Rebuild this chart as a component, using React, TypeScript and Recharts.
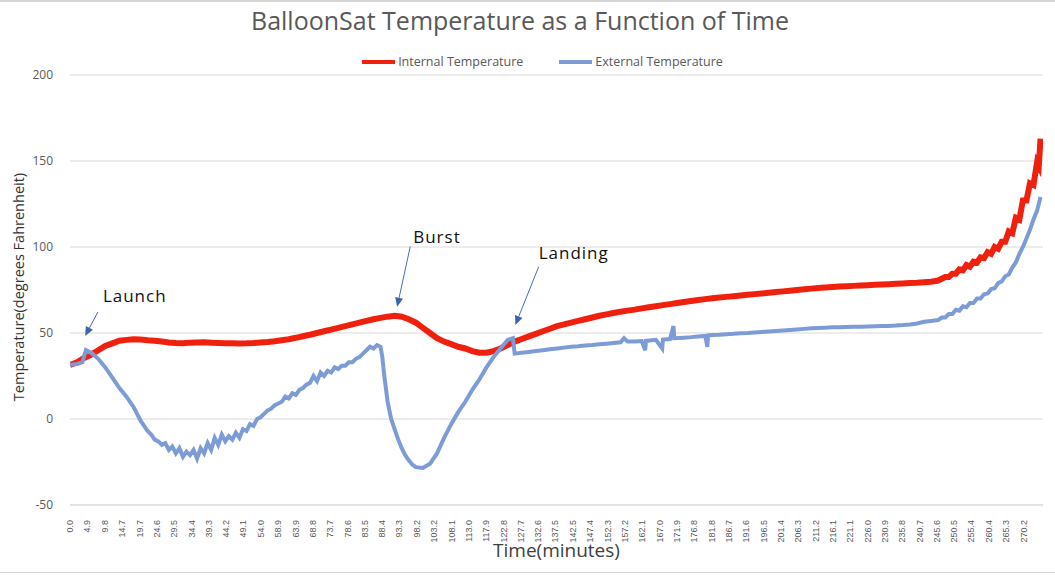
import { LineChart, Line, XAxis, YAxis, CartesianGrid, Legend, ReferenceLine } from "recharts";

// x-axis tick labels (minutes)
const tickLabels = [
  "0.0", "4.9", "9.8", "14.7", "19.7", "24.6", "29.5", "34.4", "39.3", "44.2",
  "49.1", "54.0", "58.9", "63.9", "68.8", "73.7", "78.6", "83.5", "88.4", "93.3",
  "98.2", "103.2", "108.1", "113.0", "117.9", "122.8", "127.7", "132.6", "137.5", "142.5",
  "147.4", "152.3", "157.2", "162.1", "167.0", "171.9", "176.8", "181.8", "186.7", "191.6",
  "196.5", "201.4", "206.3", "211.2", "216.1", "221.1", "226.0", "230.9", "235.8", "240.7",
  "245.6", "250.5", "255.4", "260.4", "265.3", "270.2",
];
const yTicks = [-50, 0, 50, 100, 150, 200];
const seriesNames = ["Internal Temperature", "External Temperature"];

// internal temperature (red)
const internalTime = [
  0, 2, 4, 6, 8, 10, 12, 14, 16, 18, 20, 22, 24, 26, 28, 30, 32, 34, 36, 38,
  40, 42, 44, 46, 48, 50, 52, 54, 56, 58, 60, 62, 64, 66, 68, 70, 72, 74, 76, 78,
  80, 82, 84, 86, 88, 90, 92, 94, 96, 98, 100, 102, 104, 106, 108, 110, 112, 114, 116, 118,
  120, 122, 124, 126, 128, 130, 132, 134, 136, 138, 140, 142, 144, 146, 148, 150, 152, 154, 156, 158,
  160, 162, 164, 166, 168, 170, 172, 174, 176, 178, 180, 182, 184, 186, 188, 190, 192, 194, 196, 198,
  200, 202, 204, 206, 208, 210, 212, 214, 216, 218, 220, 222, 224, 226, 228, 230, 232, 234, 236, 238,
  240, 242, 244, 246, 247, 248, 249, 250, 251, 252, 253, 254, 255, 256, 257, 258, 259, 260, 261, 262,
  263, 264, 265, 266, 267, 268, 269, 270, 271, 272, 273, 274, 274.5, 275,
];
const internalTemp = [
  31.5, 33, 35.5, 37.5, 40, 42.5, 44, 45.5, 46, 46.3, 46.2, 45.8, 45.5, 45, 44.5, 44.2, 44, 44.4, 44.5, 44.6,
  44.4, 44.2, 44, 44.1, 43.9, 44, 44.2, 44.5, 44.8, 45.2, 45.8, 46.4, 47.2, 48.1, 49, 50, 51, 52, 53, 54,
  55, 56, 57, 58, 58.8, 59.5, 60, 59.5, 58, 56, 53, 50, 47, 45, 43.5, 42, 41, 39.5, 38.5, 38.5,
  39.5, 41, 43, 45, 46.5, 48, 49.5, 51, 52.5, 54, 55, 56, 57, 58, 59, 60, 60.8, 61.6, 62.4, 63,
  63.6, 64.3, 65, 65.6, 66.2, 66.8, 67.4, 68, 68.6, 69.2, 69.7, 70.2, 70.6, 71, 71.4, 71.8, 72.2, 72.6, 73, 73.4,
  73.8, 74.2, 74.6, 75, 75.4, 75.8, 76.1, 76.4, 76.7, 77, 77.2, 77.4, 77.6, 77.8, 78, 78.2, 78.4, 78.6, 78.8, 79,
  79.2, 79.5, 79.8, 80.5, 81.5, 82.5, 82.5, 84.5, 84.5, 87, 86.5, 89.5, 88.5, 91.5, 91, 94, 93.5, 97, 96, 100,
  99, 103, 103, 109, 108, 117, 116, 127, 127, 137, 136, 149, 147, 163,
];

// external temperature (blue)
const externalTime = [
  0, 2, 3.5, 4.5, 6, 8, 10, 12, 14, 16, 18, 20, 21, 22, 23, 24, 25, 26, 27, 28,
  29, 30, 31, 32, 33, 34, 35, 36, 37, 38, 39, 40, 41, 42, 43, 44, 45, 46, 47, 48,
  49, 50, 51, 52, 53, 54, 55, 56, 57, 58, 59, 60, 61, 62, 63, 64, 65, 66, 67, 68,
  69, 70, 71, 72, 73, 74, 75, 76, 77, 78, 79, 80, 81, 82, 83, 84, 85, 86, 87, 88,
  88.5, 89, 90, 91, 92, 93, 94, 95, 96, 97, 98, 100, 102, 104, 106, 108, 110, 112, 114, 116,
  118, 120, 122, 124, 125.5, 126, 128, 130, 132, 134, 136, 138, 140, 142, 144, 146, 148, 150, 152, 154,
  156, 157, 158, 160, 162, 163, 163.2, 166, 167.8, 168, 170, 171, 171.2, 174, 176, 178, 180, 180.6, 180.8, 182,
  184, 186, 188, 190, 192, 194, 196, 198, 200, 202, 204, 206, 208, 210, 212, 214, 216, 218, 220, 222,
  224, 226, 228, 230, 232, 234, 236, 238, 240, 242, 244, 246, 247, 248, 249, 250, 251, 252, 253, 254,
  255, 256, 257, 258, 259, 260, 261, 262, 263, 264, 265, 266, 267, 268, 269, 270, 271, 272, 273, 274,
  275,
];
const externalTemp = [
  31.5, 32, 33, 40, 38.5, 35, 30, 24, 18, 13, 7, -1, -4, -7, -9, -12, -13, -15, -14, -18,
  -16, -20, -17, -22, -19, -21, -18, -23, -17, -20, -14, -18, -11, -15, -9, -13, -10, -12, -8, -11,
  -6, -7, -3, -4, 0, 1, 3, 5, 6, 8, 9, 10, 13, 12, 15, 14, 17, 18, 20, 21,
  25, 22, 27, 25, 28, 27, 30, 29, 31, 31, 33, 33, 35, 36, 38, 40, 42, 41, 43, 42,
  36, 26, 10, 0, -6, -12, -17, -21, -24, -26.5, -28, -28.5, -26, -20, -11, -3, 4, 10, 17, 23,
  30, 36, 41, 46, 47, 38, 38.5, 39, 39.5, 40, 40.5, 41, 41.5, 42, 42.3, 42.7, 43, 43.4, 43.8, 44.2,
  44.6, 47, 45, 45, 45.3, 40, 45.4, 46, 41, 46.2, 46.5, 54, 47, 47.3, 47.6, 48, 48.3, 42, 48.6, 48.8,
  49, 49.3, 49.5, 49.8, 50, 50.3, 50.6, 50.9, 51.2, 51.5, 51.8, 52.1, 52.4, 52.7, 52.9, 53.1, 53.3, 53.4, 53.5, 53.6,
  53.7, 53.8, 53.9, 54, 54.1, 54.3, 54.6, 55, 55.5, 56.5, 57, 57.5, 59, 59, 61, 61, 63.5, 63, 65.5, 65,
  67.5, 67.5, 70, 70, 72.5, 73, 75.5, 76, 79, 80, 83, 84, 88, 91, 96, 100, 105, 110, 116, 121,
  129,
];

// annotations: label, arrow start (minutes, °F), arrow tip
const noteLabels = ["Launch", "Burst", "Landing"];
const noteFrom = [[7.9, 62.2], [96.4, 100.2], [132.8, 88.5]];
const noteTo = [[4.3, 48.3], [92.7, 65.3], [126.2, 54.7]];
const noteOffsets = [[5, -10], [3, -4], [0, -8]];

const internalData = internalTime.map((t, i) => ({ t, temp: internalTemp[i] }));
const externalData = externalTime.map((t, i) => ({ t, temp: externalTemp[i] }));
const xTicks = tickLabels.map(Number);

const RED = "#f0200f";
const BLUE = "#7d9bd7";
const FONT = "'Open Sans', 'Liberation Sans', sans-serif";

const XTick = ({ x, y, payload }: any) => (
  <text
    x={x}
    y={y + 7}
    transform={`rotate(-90, ${x}, ${y + 7})`}
    textAnchor="end"
    dy="0.35em"
    fontSize={9}
    fill="#595959"
    fontFamily="'Liberation Sans Narrow', 'Liberation Sans', sans-serif"
  >
    {Number(payload.value).toFixed(1)}
  </text>
);

const arrowShape = (label: string, dx: number, dy: number) => (props: any) => {
  const { x1, y1, x2, y2 } = props;
  const ang = Math.atan2(y2 - y1, x2 - x1);
  const len = 9;
  const half = 4;
  const bx = x2 - len * Math.cos(ang);
  const by = y2 - len * Math.sin(ang);
  const pts = `${x2},${y2} ${bx + half * Math.sin(ang)},${by - half * Math.cos(ang)} ${bx - half * Math.sin(ang)},${by + half * Math.cos(ang)}`;
  return (
    <g>
      <line x1={x1} y1={y1} x2={bx} y2={by} stroke="#4a6fb5" strokeWidth={1} />
      <polygon points={pts} fill="#3d63ad" />
      <text x={x1 + dx} y={y1 + dy} fontSize={17} letterSpacing={1} fill="#111" fontFamily={FONT}>
        {label}
      </text>
    </g>
  );
};

const renderLegend = ({ payload }: any) => {
  const items = [...(payload || [])].sort(
    (a: any, b: any) => seriesNames.indexOf(a.value) - seriesNames.indexOf(b.value)
  );
  return (
    <div style={{ display: "flex", justifyContent: "center", gap: 36, fontFamily: FONT, fontSize: 12.5, color: "#595959" }}>
      {items.map((entry: any) => (
        <div key={entry.value} style={{ display: "flex", alignItems: "center" }}>
          <span style={{ display: "inline-block", width: 33, height: 4, background: entry.color, marginRight: 3 }} />
          {entry.value}
        </div>
      ))}
    </div>
  );
};

export default function App() {
  return (
    <div style={{ position: "absolute", left: 0, top: 0, width: 1055, height: 575, background: "#fff" }}>
      <div style={{ position: "absolute", left: 0, top: 0, width: 1055, height: 2, background: "#d4d4d4" }} />
      <div style={{ position: "absolute", left: 0, top: 572, width: 1055, height: 1, background: "#d4d4d4" }} />
      <div
        style={{
          position: "absolute",
          left: 0,
          top: 3,
          width: 1040,
          textAlign: "center",
          fontFamily: FONT,
          fontSize: 25,
          color: "#595959",
        }}
      >
        BalloonSat Temperature as a Function of Time
      </div>
      <LineChart width={1055} height={575} margin={{ top: 75, right: 12, bottom: 0, left: 0 }}>
        <CartesianGrid vertical={false} stroke="#d9d9d9" />
        <XAxis
          type="number"
          dataKey="t"
          domain={[0, 275.7]}
          ticks={xTicks}
          interval={0}
          height={70}
          tickLine={false}
          axisLine={{ stroke: "#d9d9d9" }}
          tick={<XTick />}
          allowDataOverflow
          label={(p: any) => (
            <text
              x={p.viewBox.x + p.viewBox.width / 2}
              y={p.viewBox.y + 52}
              textAnchor="middle"
              fontSize={19}
              fill="#404040"
              fontFamily={FONT}
            >
              Time(minutes)
            </text>
          )}
        />
        <YAxis
          type="number"
          domain={[-50, 200]}
          ticks={yTicks}
          width={70}
          tickSize={0}
          tickMargin={17}
          axisLine={false}
          tickLine={false}
          tick={{ fill: "#595959", fontSize: 12, fontFamily: FONT }}
          label={(p: any) => {
            const cx = p.viewBox.x + 19;
            const cy = p.viewBox.y + p.viewBox.height / 2 - 3;
            return (
              <text
                x={cx}
                y={cy}
                transform={`rotate(-90, ${cx}, ${cy})`}
                textAnchor="middle"
                dy="0.35em"
                fontSize={14.5}
                fill="#333"
                fontFamily={FONT}
              >
                Temperature(degrees Fahrenheit)
              </text>
            );
          }}
        />
        <Legend
          layout="horizontal"
          verticalAlign="middle"
          align="center"
          content={renderLegend}
          wrapperStyle={{ top: 53, left: 21 }}
        />
        <Line
          data={internalData}
          dataKey="temp"
          name="Internal Temperature"
          stroke={RED}
          strokeWidth={6}
          dot={false}
          activeDot={false}
          isAnimationActive={false}
        />
        <Line
          data={externalData}
          dataKey="temp"
          name="External Temperature"
          stroke={BLUE}
          strokeWidth={4}
          dot={false}
          activeDot={false}
          isAnimationActive={false}
        />
        {noteLabels.map((label, i) => (
          <ReferenceLine
            key={label}
            segment={[
              { x: noteFrom[i][0], y: noteFrom[i][1] },
              { x: noteTo[i][0], y: noteTo[i][1] },
            ]}
            shape={arrowShape(label, noteOffsets[i][0], noteOffsets[i][1])}
          />
        ))}
      </LineChart>
    </div>
  );
}
